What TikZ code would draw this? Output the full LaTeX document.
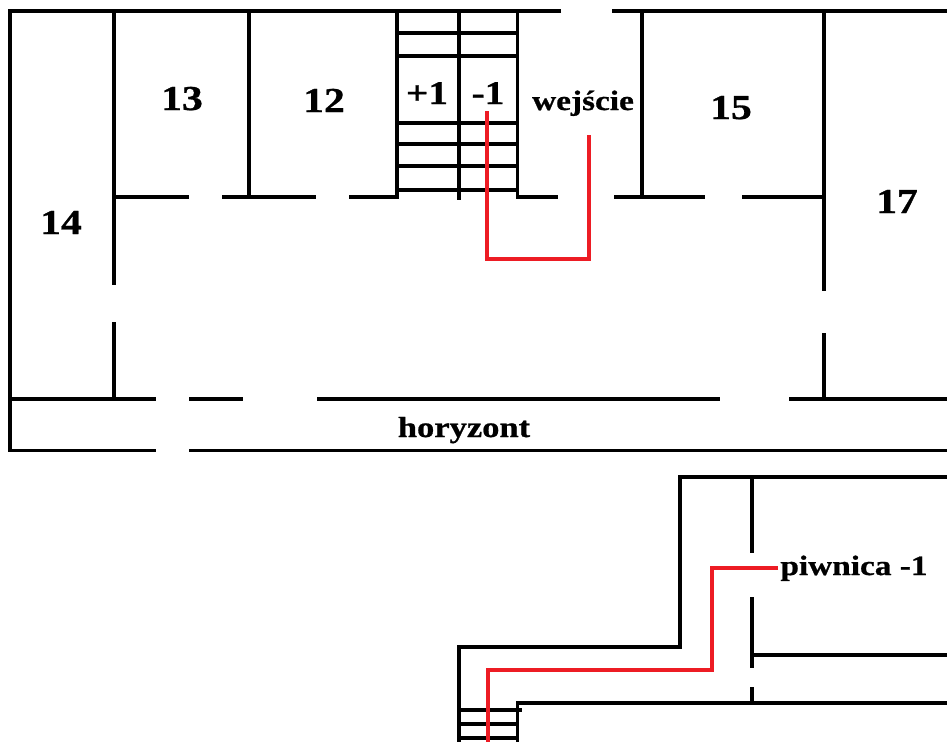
\documentclass[tikz,border=0pt]{standalone}
\usepackage{fontspec}
\newfontfamily\planfont[FakeStretch=1.19,BoldFeatures={FakeBold=0.8}]{Liberation Serif}
\tikzset{
  wall/.style={draw=black,line width=3.3pt,line cap=butt,line join=miter},
  route/.style={draw=routered,line width=3.3pt,line cap=butt,line join=miter},
  room/.style={font=\planfont\bfseries\fontsize{35}{35}\selectfont,anchor=base,inner sep=0pt},
  stairlabel/.style={font=\planfont\bfseries\fontsize{33}{33}\selectfont,anchor=base,inner sep=0pt},
  place/.style={font=\planfont\bfseries\fontsize{28}{28}\selectfont,anchor=base,inner sep=0pt}
}
\definecolor{routered}{HTML}{ED1C24}
\begin{document}
\begin{tikzpicture}[x=1pt,y=-1pt]
\useasboundingbox (0,0) rectangle (947,742);
% outer walls, upper floor
\draw[wall] (561,11) -- (10,11) -- (10,450.5) -- (155.5,450.5);
\draw[wall] (189,450.5) -- (947,450.5);
\draw[wall] (612,11) -- (947,11);
% horizon wall
\draw[wall] (10,399) -- (155.5,399);
\draw[wall] (189,399) -- (243,399);
\draw[wall] (317,399) -- (720,399);
\draw[wall] (789,399) -- (947,399);
% corridor wall
\draw[wall] (114,197) -- (189,197);
\draw[wall] (222,197) -- (316,197);
\draw[wall] (349,197) -- (398.5,197);
\draw[wall] (516,197) -- (558,197);
\draw[wall] (614,197) -- (705,197);
\draw[wall] (742,197) -- (824,197);
% partitions
\draw[wall] (114,11) -- (114,285);
\draw[wall] (114,322) -- (114,399);
\draw[wall] (249,11) -- (249,197);
\draw[wall] (397,11) -- (397,197);
\draw[wall] (459,11) -- (459,200);
\draw[wall] (517.5,11) -- (517.5,197);
\draw[wall] (642,11) -- (642,197);
\draw[wall] (824,11) -- (824,291);
\draw[wall] (824,333) -- (824,399);
% stair treads
\foreach \y in {33,56,123,144,166,190}
  \draw[wall] (397,\y) -- (517.5,\y);
% basement
\draw[wall] (947,477) -- (680,477) -- (680,647) -- (459,647) -- (459,742);
\draw[wall] (752,477) -- (752,553);
\draw[wall] (752,597) -- (752,668);
\draw[wall] (752,687) -- (752,703);
\draw[wall] (752,655) -- (947,655);
\draw[wall] (947,703) -- (517.5,703) -- (517.5,742);
\draw[wall] (459,710) -- (522,710);
\draw[wall] (459,724) -- (517.5,724);
\draw[wall] (459,738) -- (517.5,738);
% labels
\node[room] (r13) at (182,110) {13};
\node[room] (r12) at (324,112) {12};
\node[room] (r14) at (61,234) {14};
\node[room] (r15) at (731,119) {15};
\node[room] (r17) at (897,213) {17};
\node[stairlabel] (up) at (427,104) {+1};
\node[stairlabel] (down) at (488,104) {-1};
\node[place] (entry) at (583,110) {wejście};
\node[place,font=\planfont\bfseries\fontsize{29}{29}\selectfont] (hor) at (464,437) {horyzont};
\node[place] (cellar) at (854,575) {piwnica -1};
% routes
\coordinate (a1) at (487,111);
\coordinate (a2) at (589,135);
\coordinate (b1) at (778,568);
\coordinate (b2) at (488,742);
\draw[route] (a1) -- (487,259) -- (589,259) -- (a2);
\draw[route] (b1) -- (712,568) -- (712,670) -- (488,670) -- (b2);
\end{tikzpicture}
\end{document}
